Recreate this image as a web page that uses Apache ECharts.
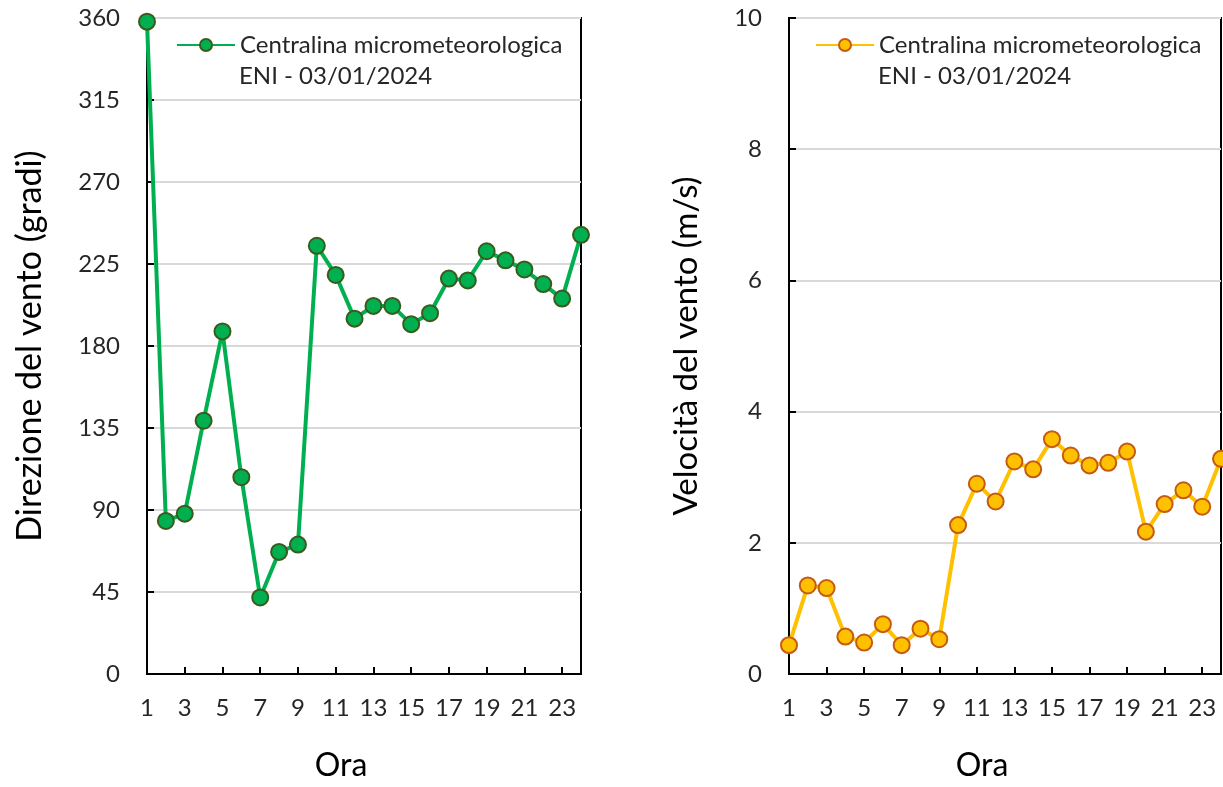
<!DOCTYPE html>
<html>
<head>
<meta charset="utf-8">
<script src="https://cdn.jsdelivr.net/npm/echarts@6/dist/echarts.min.js"></script>
<style>
html,body{margin:0;padding:0;background:#fff;}
#chart{width:1223px;height:787px;}
</style>
</head>
<body>
<div id="chart"></div>
<script>
const hours = ['1','2','3','4','5','6','7','8','9','10','11','12','13','14','15','16','17','18','19','20','21','22','23','24'];
const direction = [358, 84, 88, 139, 188, 108, 42, 67, 71, 235, 219, 195, 202, 202, 192, 198, 217, 216, 232, 227, 222, 214, 206, 241];
const speed = [0.44, 1.35, 1.31, 0.57, 0.48, 0.76, 0.44, 0.69, 0.53, 2.27, 2.90, 2.63, 3.24, 3.12, 3.58, 3.33, 3.18, 3.22, 3.39, 2.17, 2.59, 2.80, 2.55, 3.28];
const seriesName = 'Centralina micrometeorologica';
const seriesName2 = 'ENI - 03/01/2024';
const yTitles = ['Direzione del vento (gradi)', 'Velocità del vento (m/s)'];
const xTitle = 'Ora';

const FONT = 'Lato';
const TXT = '#262626';
const chart = echarts.init(document.getElementById('chart'));

function xAxisCfg(gridIndex) {
  return {
    type: 'category', gridIndex: gridIndex, data: hours, boundaryGap: false,
    name: xTitle, nameLocation: 'middle', nameGap: 76,
    nameTextStyle: {fontFamily: FONT, fontSize: 32, color: '#000', padding: [0, 46, 0, 0]},
    axisLine: {show: true, onZero: false, lineStyle: {color: '#000', width: 2}},
    axisTick: {show: true, inside: true, length: 7, interval: 1, lineStyle: {color: '#000', width: 2}},
    axisLabel: {interval: 1, fontFamily: FONT, fontSize: 24, color: TXT, margin: 22},
    splitLine: {show: false}
  };
}
function yAxisCfg(gridIndex, max, interval, name, gap, size) {
  return {
    type: 'value', gridIndex: gridIndex, min: 0, max: max, interval: interval,
    name: name, nameLocation: 'middle', nameGap: gap,
    nameTextStyle: {fontFamily: FONT, fontSize: size, color: '#000'},
    axisLine: {show: true, lineStyle: {color: '#000', width: 2}},
    axisTick: {show: true, inside: true, length: 7, lineStyle: {color: '#000', width: 2}},
    axisLabel: {fontFamily: FONT, fontSize: 24, color: TXT, margin: 27},
    splitLine: {show: true, lineStyle: {color: '#d9d9d9', width: 2}}
  };
}
function legendCfg(name, left) {
  return {
    data: [name], left: left, top: 33, padding: 0,
    itemWidth: 58, itemHeight: 15, itemGap: 6,
    textStyle: {fontFamily: FONT, fontSize: 24, color: TXT},
    selectedMode: false
  };
}

chart.setOption({
  animation: false,
  backgroundColor: '#fff',
  grid: [
    {left: 147, top: 18, width: 434, height: 662, show: true, borderColor: '#000', borderWidth: 2},
    {left: 789, top: 18, width: 432, height: 662, show: true, borderColor: '#000', borderWidth: 2}
  ],
  xAxis: [xAxisCfg(0), xAxisCfg(1)],
  yAxis: [
    yAxisCfg(0, 360, 45, yTitles[0], 100, 34),
    yAxisCfg(1, 10, 2, yTitles[1], 86, 33)
  ],
  legend: [
    legendCfg(seriesName, 176),
    legendCfg(seriesName + '\u200b', 815)
  ],
  graphic: [
    {type: 'text', left: 239, top: 64, style: {text: seriesName2, font: '24px ' + FONT, fill: TXT}},
    {type: 'text', left: 878, top: 64, style: {text: seriesName2, font: '24px ' + FONT, fill: TXT}}
  ],
  series: [
    {
      name: seriesName, type: 'line', xAxisIndex: 0, yAxisIndex: 0, data: direction,
      symbol: 'circle', symbolSize: 16, showAllSymbol: true,
      lineStyle: {color: '#00B050', width: 4},
      itemStyle: {color: '#00B050', borderColor: '#3a5a1e', borderWidth: 2},
      z: 3
    },
    {
      name: seriesName + '\u200b', type: 'line', xAxisIndex: 1, yAxisIndex: 1, data: speed,
      symbol: 'circle', symbolSize: 16, showAllSymbol: true,
      lineStyle: {color: '#FFC000', width: 4},
      itemStyle: {color: '#FFC000', borderColor: '#C55A11', borderWidth: 2},
      z: 3
    }
  ]
});
</script>
</body>
</html>
